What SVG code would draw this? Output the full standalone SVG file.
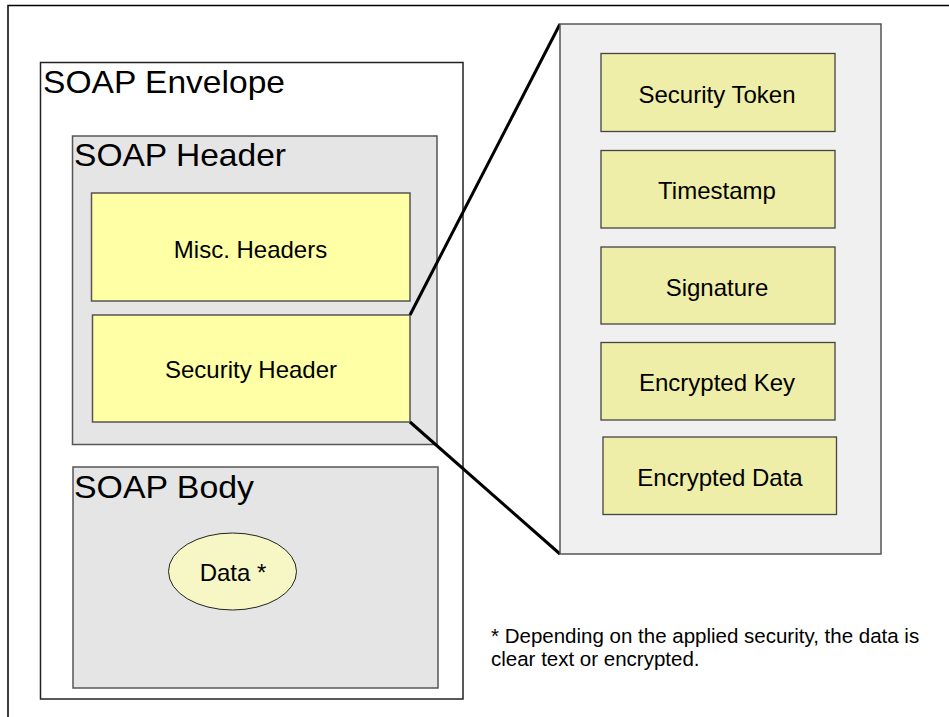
<svg xmlns="http://www.w3.org/2000/svg" width="949" height="717" viewBox="0 0 949 717">
<style>
text{font-family:"Liberation Sans",Arial,sans-serif;fill:#000}
.title{font-size:32px}
.lbl{font-size:24px;text-anchor:middle}
.note{font-size:20.5px}
.gray{fill:#e5e5e5;stroke:#555;stroke-width:1.5}
.yel{fill:#ffffa5;stroke:#555;stroke-width:1.5}
.khaki{fill:#eeeea8;stroke:#444;stroke-width:1.3}
.conn{stroke:#000;stroke-width:3;fill:none}
</style>
<rect width="949" height="717" fill="#fff"/>
<path d="M8,717 V5.5 H949" fill="none" stroke="#000" stroke-width="1.5"/>
<g id="envelope">
<rect x="40.5" y="62.5" width="422.5" height="636.5" fill="#fff" stroke="#222" stroke-width="1.5"/>
<text class="title" x="43" y="93" textLength="242" lengthAdjust="spacingAndGlyphs">SOAP Envelope</text>
</g>
<g id="header">
<rect class="gray" x="72.5" y="136" width="364.5" height="308.5"/>
<text class="title" x="74" y="165.5" textLength="212" lengthAdjust="spacingAndGlyphs">SOAP Header</text>
</g>
<g id="misc">
<rect class="yel" x="91.5" y="193" width="318.5" height="108"/>
<text class="lbl" x="250.5" y="258">Misc. Headers</text>
</g>
<g id="security">
<rect class="yel" x="92.5" y="315" width="317.5" height="107"/>
<text class="lbl" x="251" y="378">Security Header</text>
</g>
<g id="body">
<rect class="gray" x="73" y="467" width="365" height="221"/>
<text class="title" x="74" y="498" textLength="180" lengthAdjust="spacingAndGlyphs">SOAP Body</text>
</g>
<g id="data">
<ellipse cx="232.5" cy="571.5" rx="64" ry="38.5" fill="#f7f7c6" stroke="#222" stroke-width="1"/>
<text class="lbl" x="233" y="581">Data *</text>
</g>
<g id="connectors">
<line class="conn" x1="410" y1="315" x2="560" y2="24"/>
<line class="conn" x1="410" y1="422" x2="560" y2="554"/>
</g>
<g id="panel">
<rect x="560" y="24" width="321" height="530" fill="#f0f0f0" stroke="#555" stroke-width="1.5"/>
</g>
<g id="token">
<rect class="khaki" x="601" y="53.5" width="234" height="78"/>
<text class="lbl" x="717" y="103">Security Token</text>
</g>
<g id="timestamp">
<rect class="khaki" x="601" y="150.5" width="234" height="77.5"/>
<text class="lbl" x="717" y="199">Timestamp</text>
</g>
<g id="signature">
<rect class="khaki" x="601" y="247" width="234" height="77"/>
<text class="lbl" x="717" y="296">Signature</text>
</g>
<g id="enckey">
<rect class="khaki" x="601" y="342.5" width="234" height="77.5"/>
<text class="lbl" x="717" y="391">Encrypted Key</text>
</g>
<g id="encdata">
<rect class="khaki" x="603" y="437" width="233.5" height="77.5"/>
<text class="lbl" x="720" y="486">Encrypted Data</text>
</g>
<g id="footnote">
<text class="note" x="491" y="643">* Depending on the applied security, the data is</text>
<text class="note" x="491" y="665.5">clear text or encrypted.</text>
</g>
</svg>
